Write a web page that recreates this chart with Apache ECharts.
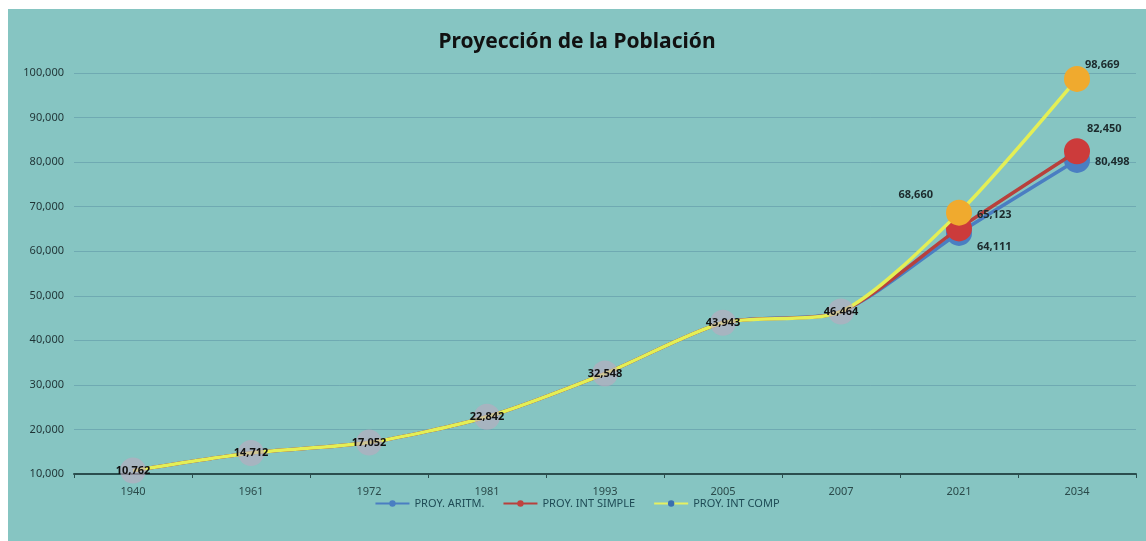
<!DOCTYPE html>
<html>
<head>
<meta charset="utf-8">
<script src="https://cdn.jsdelivr.net/npm/echarts@6/dist/echarts.min.js"></script>
<style>
  html, body { margin: 0; padding: 0; background: #ffffff; }
  #chart { position: absolute; left: 8px; top: 9px; width: 1138px; height: 532px; }
</style>
</head>
<body>
<div id="chart"></div>
<script>
const years = ['1940', '1961', '1972', '1981', '1993', '2005', '2007', '2021', '2034'];
const aritm = [10762, 14712, 17052, 22842, 32548, 43943, 46464, 64111, 80498];
const simple = [10762, 14712, 17052, 22842, 32548, 43943, 46464, 65123, 82450];
const comp = [10762, 14712, 17052, 22842, 32548, 43943, 46464, 68660, 98669];
const yTicks = [10000, 100000, 10000]; // min, max, step
const HIST = 7; // first projected index

const fmt = (v) => v.toLocaleString('en-US');

// label spots for projected points [index] -> [position, offset]
const aritmLabels = { 7: ['right', [0, 14]], 8: ['right', [0, 2]] };
const simpleLabels = { 7: ['right', [0, -14]], 8: ['right', [-8, -22]] };
const compLabels = { 7: ['left', [-8, -18]], 8: ['right', [-10, -14]] };

function buildData(values, color, labels, showHist) {
  return values.map((v, i) => {
    if (i < HIST) {
      if (!showHist) return { value: v, symbol: 'none', label: { show: false } };
      return {
        value: v,
        symbolSize: 26,
        itemStyle: { color: 'rgba(190,168,190,0.6)', borderWidth: 0 },
        label: {
          show: true,
          position: 'inside',
          color: '#111111',
          fontWeight: 'bold',
          fontSize: 11,
          formatter: (p) => fmt(p.value),
        },
      };
    }
    const l = labels[i];
    return {
      value: v,
      symbolSize: 26,
      itemStyle: { color: color, borderWidth: 0 },
      label: {
        show: true,
        position: l[0],
        offset: l[1],
        color: '#1c2a2c',
        fontWeight: 'bold',
        fontSize: 11,
        formatter: (p) => fmt(p.value),
      },
    };
  });
}

const chart = echarts.init(document.getElementById('chart'));
const option = {
  backgroundColor: '#86c5c2',
  textStyle: { fontFamily: 'Noto Sans, DejaVu Sans, sans-serif' },
  title: {
    text: 'Proyección de la Población',
    left: 'center',
    top: 18,
    textStyle: { color: '#111111', fontSize: 21, fontWeight: 'bold' },
  },
  legend: {
    bottom: 27,
    left: 'center',
    itemWidth: 34,
    itemHeight: 8,
    itemGap: 18,
    textStyle: { color: '#1e4b55', fontSize: 11 },
    data: [
      { name: 'PROY. ARITM.' },
      { name: 'PROY. INT SIMPLE' },
      { name: 'PROY. INT COMP', itemStyle: { color: '#3a6fb0' }, lineStyle: { color: '#e6f060' } },
    ],
  },
  grid: { left: 66, right: 10, top: 64, bottom: 67 },
  xAxis: {
    type: 'category',
    data: years,
    axisLine: { lineStyle: { color: '#2a4e4e', width: 2 } },
    axisTick: { show: true, length: 4, lineStyle: { color: '#2a4e4e' } },
    axisLabel: { color: '#2a4a4a', fontSize: 11, margin: 12 },
  },
  yAxis: {
    type: 'value',
    min: yTicks[0],
    max: yTicks[1],
    interval: yTicks[2],
    axisLine: { show: false },
    axisTick: { show: false },
    axisLabel: { color: '#1f3335', fontSize: 11, formatter: fmt, margin: 10 },
    splitLine: { lineStyle: { color: 'rgba(70,120,150,0.35)', width: 1 } },
  },
  series: [
    {
      name: 'PROY. ARITM.',
      type: 'line',
      smooth: 0.25,
      symbol: 'circle',
      color: '#4a7ec2',
      lineStyle: { width: 3.5, color: '#4a7ec2' },
      data: buildData(aritm, '#4a7ec2', aritmLabels, false),
      z: 2,
    },
    {
      name: 'PROY. INT SIMPLE',
      type: 'line',
      smooth: 0.25,
      symbol: 'circle',
      color: '#c0423f',
      lineStyle: { width: 3.5, color: '#b8403c' },
      data: buildData(simple, '#cc3b3b', simpleLabels, false),
      z: 3,
    },
    {
      name: 'PROY. INT COMP',
      type: 'line',
      smooth: 0.25,
      symbol: 'circle',
      color: '#e6f060',
      lineStyle: { width: 3.5, color: '#e4ef55' },
      data: buildData(comp, '#f0aa2e', compLabels, true),
      z: 4,
    },
  ],
};
chart.setOption(option);
</script>
</body>
</html>
